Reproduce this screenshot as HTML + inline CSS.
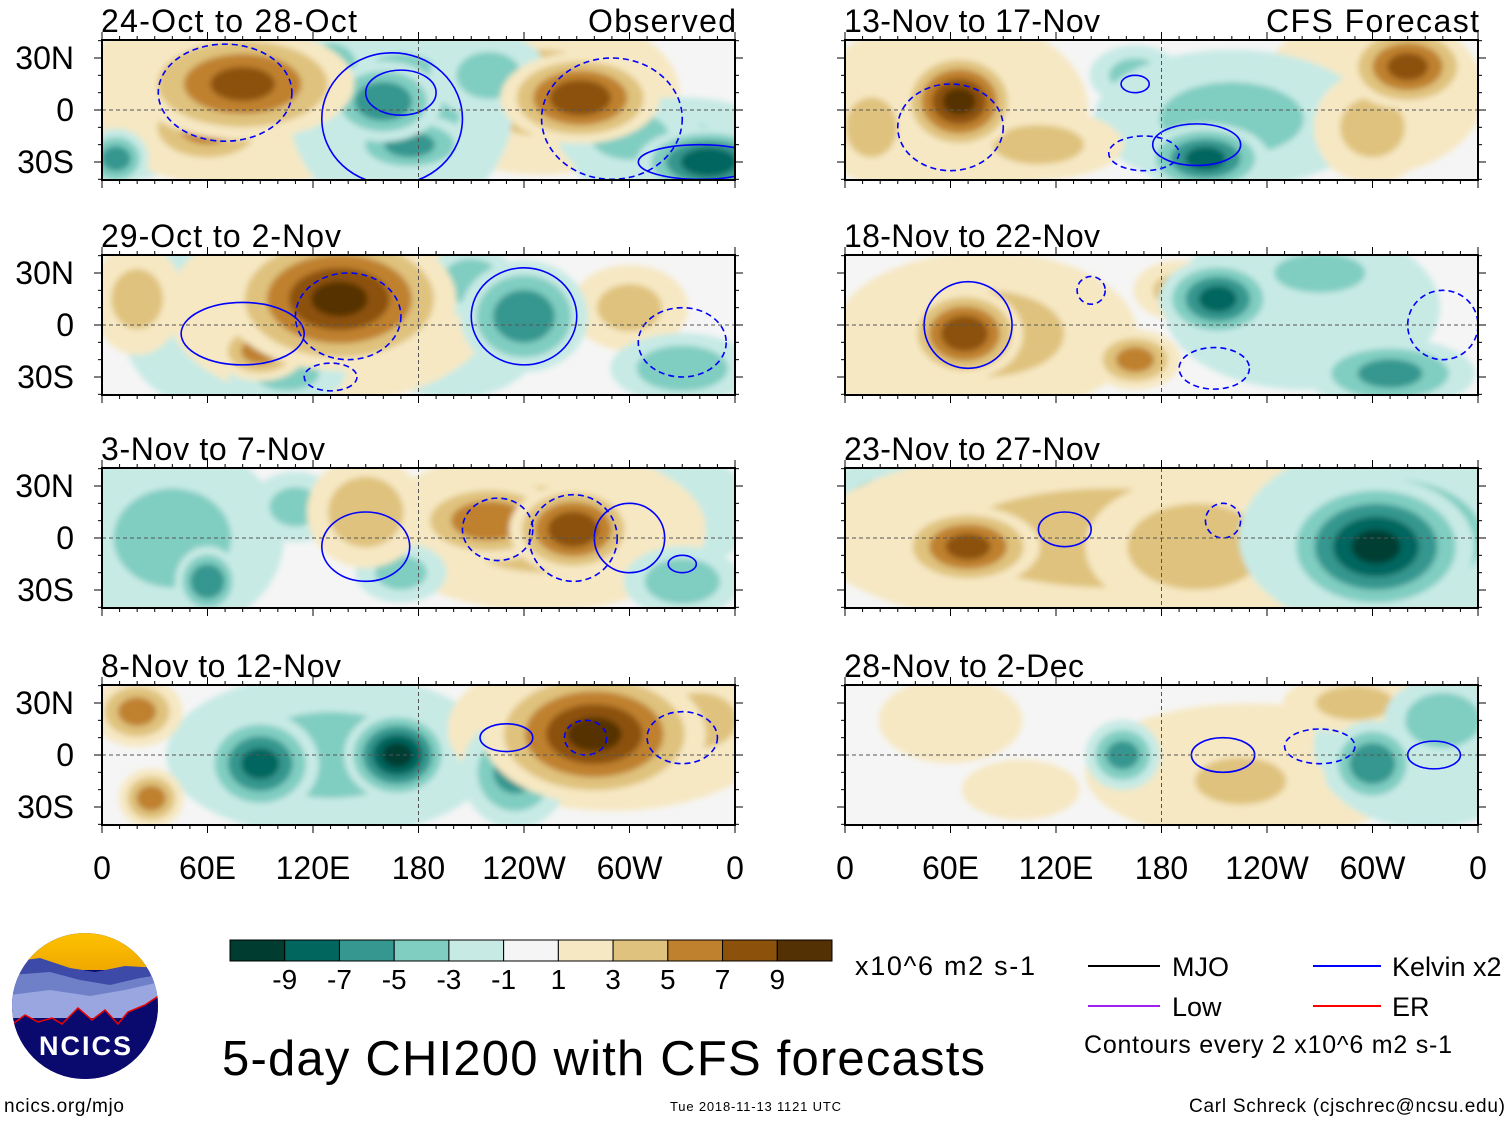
<!DOCTYPE html>
<html><head><meta charset="utf-8"><style>
body{margin:0;background:#fff;}
svg{display:block;font-family:"Liberation Sans",sans-serif;}
</style></head><body>
<svg id="s" width="1510" height="1121" viewBox="0 0 1510 1121">
<defs>
<clipPath id="cl"><rect x="0" y="0" width="633" height="140"/></clipPath>
<filter id="bl" x="-20%" y="-20%" width="140%" height="140%"><feGaussianBlur stdDeviation="3"/></filter>
<linearGradient id="sun" x1="0" y1="0" x2="0" y2="1"><stop offset="0" stop-color="#ffc400"/><stop offset="1" stop-color="#f0a800"/></linearGradient>
<clipPath id="logoclip"><circle cx="85" cy="1006" r="73"/></clipPath>
</defs>
<g id="panels"></g>
<g id="cbar"></g>
<text x="855" y="975" font-size="27" textLength="180">x10^6 m2 s-1</text>
<text x="222" y="1075" font-size="49" textLength="763">5-day CHI200 with CFS forecasts</text>
<text x="670" y="1111" font-size="13" textLength="171">Tue 2018-11-13 1121 UTC</text>
<text x="4" y="1112" font-size="19" textLength="120">ncics.org/mjo</text>
<text x="1505" y="1112" font-size="19" text-anchor="end" textLength="316">Carl Schreck (cjschrec@ncsu.edu)</text>
<g font-size="27">
<line x1="1088" y1="966" x2="1160" y2="966" stroke="#000" stroke-width="2"/>
<text x="1172" y="976">MJO</text>
<line x1="1313" y1="966" x2="1381" y2="966" stroke="#0000ff" stroke-width="2"/>
<text x="1392" y="976">Kelvin x2</text>
<line x1="1088" y1="1006" x2="1160" y2="1006" stroke="#a020f0" stroke-width="2"/>
<text x="1172" y="1016">Low</text>
<line x1="1313" y1="1006" x2="1381" y2="1006" stroke="#ff0000" stroke-width="2"/>
<text x="1392" y="1016">ER</text>
<text x="1084" y="1053" font-size="25" textLength="368">Contours every 2 x10^6 m2 s-1</text>
</g>
<g>
<g clip-path="url(#logoclip)">
<rect x="10" y="930" width="150" height="155" fill="#0a0a6e"/>
<rect x="10" y="930" width="150" height="40" fill="url(#sun)"/>
<path d="M10 962 L40 958 L70 968 L95 972 L125 966 L160 968 L160 1000 L10 1000Z" fill="#3d4aa8"/>
<path d="M10 975 L50 972 L80 980 L110 985 L140 978 L160 975 L160 1010 L10 1010Z" fill="#7080c8"/>
<path d="M10 995 L50 990 L90 996 L125 990 L160 982 L160 1018 L10 1018Z" fill="#9aa6e0"/>
<path d="M10 1026 L25 1015 L38 1022 L52 1018 L62 1024 L78 1008 L92 1020 L105 1010 L118 1024 L128 1012 L145 1005 L160 995 L160 1085 L10 1085Z" fill="#0a0a6e" stroke="#e00" stroke-width="1.5"/>
</g>
<text x="86" y="1055" font-size="27" font-weight="bold" fill="#fff" text-anchor="middle" letter-spacing="2">NCICS</text>
</g>
</svg>
<script>
var levels = [-9,-7,-5,-3,-1,1,3,5,7,9];
var colors = ["#003c30","#01665e","#35978f","#80cdc1","#c7eae5","#f5f5f5","#f6e8c3","#dfc27d","#bf812d","#8c510a","#543005"];
var titles = ["24-Oct to 28-Oct","29-Oct to 2-Nov","3-Nov to 7-Nov","8-Nov to 12-Nov","13-Nov to 17-Nov","18-Nov to 22-Nov","23-Nov to 27-Nov","28-Nov to 2-Dec"];
var xTicks = ["0","60E","120E","180","120W","60W","0"];
var xTickLons = [0,60,120,180,240,300,360];
var yTicks = ["30N","0","30S"];
var yTickLats = [30,0,-30];
// anomaly blobs: [lon, lat, amplitude, lonRadius, latRadius]
var blobs0 = [[80,10,3,60,35],[250,10,3,50,30],[170,0,-3,40,40],[330,-25,-3,40,20],[80,15,7,40,20],[60,-10,5,25,15],[272,7,8,28,16],[160,5,-6,20,14],[175,-20,-5,22,10],[345,-30,-8,25,12],[8,-28,-5,10,10],[220,20,-3,20,15],[300,-15,-3,25,15],[130,25,-3,15,15],[20,0,-2,20,25]];
var blobs1 = [[130,10,3,60,35],[135,15,9,42,26],[90,-15,5,15,10],[240,5,-6,22,20],[105,-28,-3,20,10],[330,-25,-4,25,12],[210,25,-4,15,12],[20,15,3,15,20],[300,10,3,20,15],[60,0,-2,30,30],[200,-10,-2,30,20]];
var blobs2 = [[250,5,3,60,30],[268,5,8,22,16],[220,10,6,28,14],[150,15,4,20,20],[60,-25,-6,10,12],[40,0,-3,40,35],[110,18,-3,15,12],[330,-25,-4,20,12],[170,-20,-3,15,10],[330,15,-2,25,20]];
var blobs3 = [[290,15,4,60,30],[280,12,9,40,25],[168,0,-9,18,16],[90,-5,-7,20,18],[235,-10,-5,18,20],[20,25,5,15,12],[28,-25,5,10,10],[125,-25,-3,20,10],[340,20,4,20,15],[130,0,-3,60,30]];
var blobs4 = [[65,5,9,20,18],[320,25,7,22,15],[205,-28,-7,22,12],[165,20,-3,15,10],[220,-5,-3,50,25],[300,-10,3,20,20],[110,-20,3,30,12],[15,-10,3,15,20],[60,0,2,50,35],[300,10,2,40,30]];
var blobs5 = [[68,-5,8,20,16],[212,15,-7,20,14],[310,-28,-5,30,12],[165,-20,5,15,10],[100,-20,3,40,12],[270,30,-4,25,10],[20,-20,3,20,15],[190,20,3,15,10],[80,-5,3,55,30],[260,10,-2,50,30]];
var blobs6 = [[70,-5,7,25,14],[302,-5,-9,35,25],[200,-5,4,40,25],[110,-5,3,30,25],[155,35,-3,20,10],[20,20,-3,20,15],[150,0,3,110,35],[310,0,-4,55,35]];
var blobs7 = [[158,0,-5,12,12],[300,-5,-6,15,15],[340,20,-4,20,15],[225,-15,3,30,15],[290,30,3,25,10],[60,20,2,25,15],[100,-20,2,20,10],[230,-10,2,60,25],[330,5,-2,40,30]];
var allBlobs = [blobs0,blobs1,blobs2,blobs3,blobs4,blobs5,blobs6,blobs7];
// blue contours: [lon, lat, lonRadius, latRadius, dashed]
var cont0 = [[70,10,38,28,1],[170,10,20,13,0],[165,-5,40,38,0],[290,-5,40,35,1],[340,-30,35,10,0]];
var cont1 = [[80,-5,35,18,0],[240,5,30,28,0],[140,5,30,25,1],[330,-10,25,20,1],[130,-30,15,8,1]];
var cont2 = [[150,-5,25,20,0],[225,5,20,18,1],[268,0,25,25,1],[300,0,20,20,0],[330,-15,8,5,0]];
var cont3 = [[230,10,15,8,0],[275,10,12,10,1],[330,10,20,15,1]];
var cont4 = [[60,-10,30,25,1],[200,-20,25,12,0],[170,-25,20,10,1],[165,15,8,5,0]];
var cont5 = [[70,0,25,25,0],[210,-25,20,12,1],[140,20,8,8,1],[340,0,20,20,1]];
var cont6 = [[125,5,15,10,0],[215,10,10,10,1]];
var cont7 = [[215,0,18,10,0],[270,5,20,10,1],[335,0,15,8,0]];
var allCont = [cont0,cont1,cont2,cont3,cont4,cont5,cont6,cont7];

var NS="http://www.w3.org/2000/svg";
function mk(t,a,p){var e=document.createElementNS(NS,t);for(var k in a)e.setAttribute(k,a[k]);p.appendChild(e);return e;}
var W=633,H=140;
function xs(lon){return lon*W/360;}
function ys(lat){return 70-lat*52/30;}
function col(v){var i=0;while(i<levels.length&&v>levels[i])i++;return colors[i];}
var lefts=[102,845], tops=[40,255,468,685];
var P=document.getElementById('panels');
for(var p=0;p<8;p++){
  var X=lefts[p<4?0:1],Y=tops[p%4];
  var g=mk('g',{transform:'translate('+X+','+Y+')'},P);
  
  
  var inner=mk('g',{'clip-path':'url(#cl)'},g);
  mk('rect',{x:0,y:0,width:W,height:H,fill:'#f5f5f5'},inner);
  var fg=mk('g',{filter:'url(#bl)'},inner);
  var bl=allBlobs[p].slice().sort(function(a,b){return Math.abs(a[2])-Math.abs(b[2]);});
  bl.forEach(function(b){
    var amp=b[2],s=amp>0?1:-1,n=Math.abs(amp);
    for(var l=1;l<=n;l+=2){
      var f=1-(l-1)/(n+1);
      var e=mk('ellipse',{cx:xs(b[0]),cy:ys(b[1]),rx:xs(b[3])*f*1.5+6,ry:(b[4]*52/30)*f*1.5+4,fill:col(s*(l+0.5))},fg);
      
      
    }
  });
  allCont[p].forEach(function(c){
    var e=mk('ellipse',{cx:xs(c[0]),cy:ys(c[1]),rx:xs(c[2]),ry:c[3]*52/30,fill:'none',stroke:'#0000ff','stroke-width':1.6,'stroke-dasharray':c[4]?'6,4':'none'},inner);
    
    
  });
  mk('line',{x1:0,y1:ys(0),x2:W,y2:ys(0),stroke:'#555','stroke-dasharray':'4,3','stroke-width':1},inner);
  mk('line',{x1:xs(180),y1:0,x2:xs(180),y2:H,stroke:'#555','stroke-dasharray':'4,3','stroke-width':1},inner);
  mk('rect',{x:0,y:0,width:W,height:H,fill:'none',stroke:'#000','stroke-width':2},g);
  for(var t=0;t<=36;t++){var tx=xs(t*10),len=t%6==0?8:4;
    mk('line',{x1:tx,y1:0,x2:tx,y2:-len,stroke:'#000','stroke-width':1},g);
    mk('line',{x1:tx,y1:H,x2:tx,y2:H+len,stroke:'#000','stroke-width':1},g);}
  for(var la=-40;la<=40;la+=10){var ty=ys(la),len2=la%30==0?8:4;
    mk('line',{x1:0,y1:ty,x2:-len2,y2:ty,stroke:'#000'},g);
    mk('line',{x1:W,y1:ty,x2:W+len2,y2:ty,stroke:'#000'},g);}
  var tt=mk('text',{x:-1,y:-8,'font-size':32},g);tt.textContent=titles[p];
  tt.setAttribute('textLength',titles[p].length*16);
  
  
  if(p==0||p==4){var r=mk('text',{x:W+1,y:-8,'font-size':32,'text-anchor':'end'},g);r.textContent=p==0?'Observed':'CFS Forecast';
    r.setAttribute('textLength',p==0?148:213);
    
    }
  if(p<4){for(var k=0;k<3;k++){var yt=mk('text',{x:-28,y:ys(yTickLats[k])+11,'font-size':32,'text-anchor':'end'},g);yt.textContent=yTicks[k];
    
    }}
  if(p%4==3){for(var k2=0;k2<xTicks.length;k2++){var xt=mk('text',{x:xs(xTickLons[k2]),y:H+54,'font-size':32,'text-anchor':'middle'},g);xt.textContent=xTicks[k2];
    
    }}
}
var CB=document.getElementById('cbar'),bw=602/11;
for(var i=0;i<11;i++){var r2=mk('rect',{x:230+i*bw,y:940,width:bw,height:21,fill:colors[i],stroke:'#000','stroke-width':1},CB);
  
  }
for(var j=0;j<levels.length;j++){var lt=mk('text',{x:230+(j+1)*bw,y:989,'font-size':28,'text-anchor':'middle'},CB);lt.textContent=levels[j];
  
  }
</script>
</body></html>
